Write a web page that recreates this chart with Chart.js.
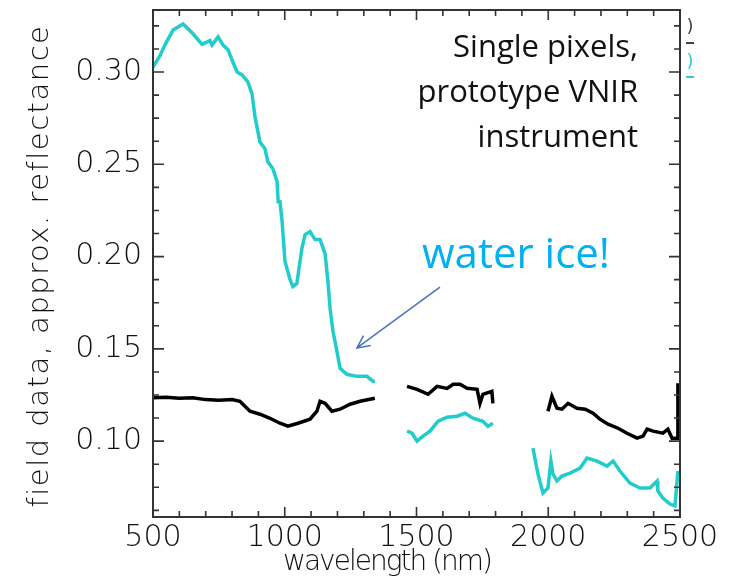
<!DOCTYPE html>
<html>
<head>
<meta charset="utf-8">
<script src="https://cdn.jsdelivr.net/npm/chart.js@4.4.1/dist/chart.umd.min.js"></script>
<style>
  html, body { margin: 0; padding: 0; background: #fff; }
  #wrap { width: 740px; height: 582px; }
</style>
</head>
<body>
<div id="wrap"><canvas id="spectra" width="740" height="582"></canvas></div>
<script>
// wavelength (nm) / reflectance, null = gap between detector segments
const iceWavelength = [
  500, 527, 545, 576, 614, 650, 686, 716, 724, 747, 766, 785, 800, 819, 838, 860, 876, 887, 906, 925,
  936, 955, 971, 975, 982, 990, 1001, 1020, 1031, 1046, 1054, 1065, 1077, 1096, 1115, 1134, 1153, 1164,
  1172, 1183, 1198, 1210, 1236, 1274, 1312, 1335, 1342,
  null,
  1464, 1483, 1502, 1525, 1551, 1582, 1616, 1654, 1684, 1714, 1752, 1771, 1790,
  null,
  1942, 1961, 1980, 1999, 2010, 2018, 2033, 2052, 2083, 2121, 2147, 2185, 2223, 2246, 2272, 2310, 2348,
  2386, 2413, 2416, 2435, 2462, 2481, 2492
];
const iceReflectance = [
  0.3027, 0.309, 0.3146, 0.3227, 0.326, 0.321, 0.315, 0.317, 0.3146, 0.319, 0.3146, 0.312, 0.3065, 0.300,
  0.2984, 0.2946, 0.288, 0.2757, 0.262, 0.2584, 0.2514, 0.2476, 0.2405, 0.2297, 0.2297, 0.2189, 0.1973,
  0.1876, 0.1838, 0.1854, 0.1935, 0.2043, 0.2119, 0.2135, 0.2092, 0.2092, 0.2016, 0.1865, 0.1719, 0.1595,
  0.1486, 0.1395, 0.1362, 0.1351, 0.1351, 0.1324, 0.1324,
  null,
  0.1054, 0.1043, 0.100, 0.1027, 0.1054, 0.1108, 0.113, 0.1135, 0.1151, 0.1124, 0.1108, 0.1081, 0.1097,
  null,
  0.0962, 0.0822, 0.0719, 0.0746, 0.0892, 0.0822, 0.0784, 0.0811, 0.0827, 0.0854, 0.0908, 0.0892, 0.0865,
  0.0892, 0.0838, 0.0773, 0.0746, 0.0746, 0.0784, 0.073, 0.0692, 0.0659, 0.0649, 0.0838
];
const soilWavelength = [
  500, 550, 600, 650, 700, 750, 800, 830, 868, 906, 944, 982, 1012, 1050, 1096, 1122, 1134, 1153, 1179,
  1210, 1248, 1286, 1342,
  null,
  1464, 1502, 1544, 1578, 1616, 1639, 1665, 1692, 1730, 1741, 1752, 1786, 1790,
  null,
  1999, 2014, 2033, 2052, 2075, 2109, 2140, 2170, 2196, 2227, 2265, 2299, 2337, 2360, 2375, 2398, 2435,
  2454, 2470, 2489, 2492
];
const soilReflectance = [
  0.1235, 0.1238, 0.1232, 0.1235, 0.1225, 0.1222, 0.1225, 0.1216, 0.1162, 0.1146, 0.1124, 0.1097, 0.1081,
  0.1097, 0.1119, 0.1162, 0.1216, 0.1205, 0.1162, 0.1173, 0.12, 0.1216, 0.1232,
  null,
  0.1297, 0.1281, 0.1254, 0.1297, 0.1286, 0.1308, 0.1308, 0.1286, 0.1281, 0.1205, 0.1254, 0.127, 0.1205,
  null,
  0.1162, 0.1243, 0.1178, 0.1173, 0.1205, 0.1178, 0.1173, 0.1151, 0.1119, 0.1092, 0.107, 0.1043, 0.1016,
  0.1027, 0.1065, 0.1054, 0.1043, 0.1065, 0.1016, 0.1016, 0.1314
];

const xTickLabels = [500, 1000, 1500, 2000, 2500];
const yTickLabels = [0.10, 0.15, 0.20, 0.25, 0.30];

const noteLines = ['Single pixels,', 'prototype VNIR', 'instrument'];
const noteAnchor = [2341, 0.3081];       // right end of first line (nm, refl)
const iceLabel = 'water ice!';
const iceLabelAt = [1521, 0.1938];
const arrowFrom = [1589, 0.1835];
const arrowTo = [1274, 0.1505];

function toPoints(xs, ys) {
  return xs.map((w, i) => ({ x: w === null ? null : w, y: ys[i] }));
}

const axisFont = { family: 'DejaVu Sans', size: 30, weight: '200' };

// axis box, inward tick marks, titles and the text notes
const decorations = {
  id: 'decorations',
  afterDatasetsDraw(chart) {
    const { ctx, chartArea: a, scales: { x, y } } = chart;
    ctx.save();
    ctx.strokeStyle = '#333';
    ctx.lineWidth = 2;
    ctx.strokeRect(a.left, a.top, a.right - a.left, a.bottom - a.top);

    ctx.lineWidth = 1.6;
    ctx.beginPath();
    for (let w = 500; w <= 2500; w += 100) {
      const px = x.getPixelForValue(w);
      const len = w % 500 === 0 ? 10 : 6;
      ctx.moveTo(px, a.bottom); ctx.lineTo(px, a.bottom - len);
      ctx.moveTo(px, a.top); ctx.lineTo(px, a.top + len);
    }
    for (let k = 5; k <= 26; k++) {
      const v = k * 0.0125;
      const py = y.getPixelForValue(v);
      const len = k % 4 === 0 ? 11 : 6;
      ctx.moveTo(a.left, py); ctx.lineTo(a.left + len, py);
      ctx.moveTo(a.right, py); ctx.lineTo(a.right - len, py);
    }
    ctx.stroke();

    // axis titles
    ctx.fillStyle = '#111';
    ctx.font = '200 28px "DejaVu Sans"';
    ctx.textAlign = 'center';
    ctx.textBaseline = 'alphabetic';
    ctx.letterSpacing = '-2px';
    ctx.fillText('wavelength (nm)', 387, 570);
    ctx.save();
    ctx.translate(48, 266);
    ctx.rotate(-Math.PI / 2);
    ctx.font = '200 29px "DejaVu Sans"';
    ctx.letterSpacing = '1.5px';
    ctx.fillText('field data, approx. reflectance', 0, 0);
    ctx.restore();
    ctx.letterSpacing = '0px';

    // clipped legend remnants beyond the right axis
    ctx.font = '18px "DejaVu Sans"';
    ctx.textAlign = 'center';
    ctx.textBaseline = 'middle';
    ctx.fillStyle = '#444';
    ctx.fillText(')', a.right + 10, 27);
    ctx.fillStyle = '#2ccfd0';
    ctx.fillText(')', a.right + 10, 62);
    ctx.lineWidth = 2;
    ctx.strokeStyle = '#444';
    ctx.beginPath(); ctx.moveTo(a.right + 6, 43); ctx.lineTo(a.right + 14, 43); ctx.stroke();
    ctx.strokeStyle = '#2ccfd0';
    ctx.beginPath(); ctx.moveTo(a.right + 6, 77); ctx.lineTo(a.right + 14, 77); ctx.stroke();

    // notes
    ctx.fillStyle = '#111';
    ctx.font = '31px "Open Sans"';
    ctx.textAlign = 'right';
    ctx.textBaseline = 'alphabetic';
    const nx = x.getPixelForValue(noteAnchor[0]);
    const ny = y.getPixelForValue(noteAnchor[1]);
    noteLines.forEach((t, i) => ctx.fillText(t, nx, ny + i * 45));

    ctx.fillStyle = '#00b0f0';
    ctx.font = '42px "Open Sans"';
    ctx.textAlign = 'left';
    ctx.fillText(iceLabel, x.getPixelForValue(iceLabelAt[0]), y.getPixelForValue(iceLabelAt[1]));

    // arrow
    const x0 = x.getPixelForValue(arrowFrom[0]), y0 = y.getPixelForValue(arrowFrom[1]);
    const x1 = x.getPixelForValue(arrowTo[0]), y1 = y.getPixelForValue(arrowTo[1]);
    const ang = Math.atan2(y1 - y0, x1 - x0);
    ctx.strokeStyle = '#4a72c0';
    ctx.lineWidth = 1.5;
    ctx.beginPath();
    ctx.moveTo(x0, y0); ctx.lineTo(x1, y1);
    ctx.moveTo(x1 - 14 * Math.cos(ang - 0.45), y1 - 14 * Math.sin(ang - 0.45));
    ctx.lineTo(x1, y1);
    ctx.lineTo(x1 - 14 * Math.cos(ang + 0.45), y1 - 14 * Math.sin(ang + 0.45));
    ctx.stroke();
    ctx.restore();
  }
};

new Chart(document.getElementById('spectra'), {
  type: 'line',
  data: {
    datasets: [
      {
        label: 'ice',
        data: toPoints(iceWavelength, iceReflectance),
        borderColor: '#22cccc',
        borderWidth: 3.5,
        pointRadius: 0,
        spanGaps: false,
        tension: 0
      },
      {
        label: 'soil',
        data: toPoints(soilWavelength, soilReflectance),
        borderColor: '#000',
        borderWidth: 3.5,
        pointRadius: 0,
        spanGaps: false,
        tension: 0
      }
    ]
  },
  options: {
    responsive: false,
    animation: false,
    layout: { padding: { top: 10, right: 60, bottom: 0, left: 0 } },
    plugins: { legend: { display: false }, tooltip: { enabled: false } },
    scales: {
      x: {
        type: 'linear',
        min: 500,
        max: 2500,
        grid: { display: false, drawTicks: false },
        border: { display: false },
        afterBuildTicks: s => { s.ticks = xTickLabels.map(v => ({ value: v })); },
        afterFit: s => { s.height = 65; s.paddingLeft = 0; s.paddingRight = 0; },
        ticks: { font: axisFont, color: '#111', padding: 3, maxRotation: 0, callback: v => String(v) }
      },
      y: {
        type: 'linear',
        min: 0.0589,
        max: 0.3336,
        grid: { display: false, drawTicks: false },
        border: { display: false },
        afterBuildTicks: s => { s.ticks = yTickLabels.map(v => ({ value: v })); },
        afterFit: s => { s.width = 153; s.paddingTop = 0; s.paddingBottom = 0; },
        ticks: { font: axisFont, color: '#111', padding: 11, callback: v => v.toFixed(2) }
      }
    }
  },
  plugins: [decorations]
});
</script>
</body>
</html>
